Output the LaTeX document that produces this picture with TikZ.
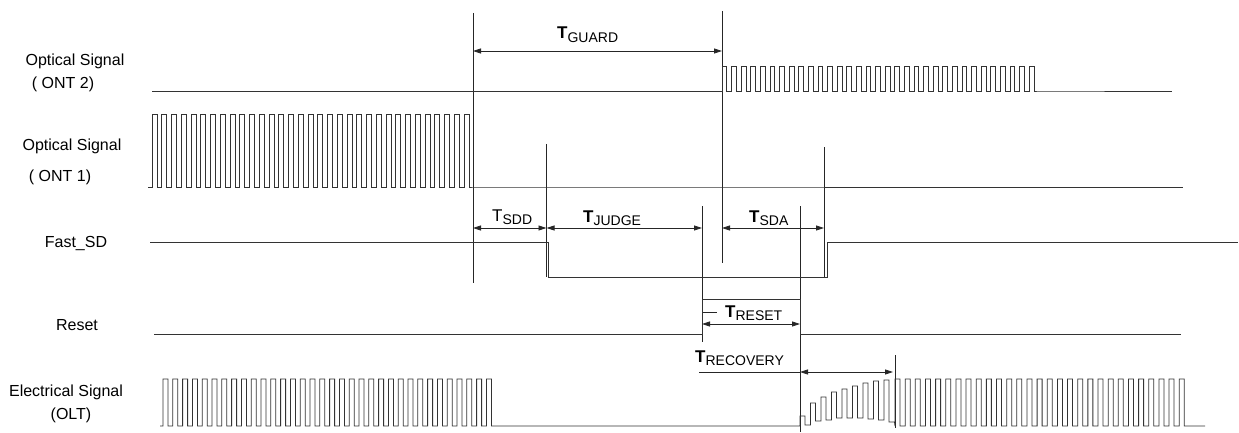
\documentclass[tikz,border=0pt]{standalone}
\usepackage{fontspec}
\setmainfont{Liberation Sans}
\usetikzlibrary{arrows.meta}

% T with a lowered subscript, as in the timing labels
\newcommand{\tsub}[2]{#1\raisebox{-3.5pt}{\fontsize{14}{14}\selectfont #2}}

\begin{document}
\begin{tikzpicture}[
    x=1pt, y=-1pt,
    font=\fontsize{16}{16}\selectfont,
    sig/.style={draw=black!80, line width=0.8pt, line join=miter},
    cut/.style={draw=black!85, line width=0.8pt},
    dim/.style={{Triangle[length=8pt,width=5pt]}-{Triangle[length=8pt,width=5pt]},
                draw=black!85, line width=0.8pt},
    lbl/.style={inner sep=0pt, anchor=base},
    tlbl/.style={inner sep=0pt, anchor=base west, font=\fontsize{17}{17}\selectfont},
]
\useasboundingbox (0,0) rectangle (1239,433);

% ---- Signal names ----------------------------------------------------------
\node[lbl] (ont2a) at (75,66)  {Optical Signal};
\node[lbl] (ont2b) at (63,89)  {( ONT 2)};
\node[lbl] (ont1a) at (72,150) {Optical Signal};
\node[lbl] (ont1b) at (60,181) {( ONT 1)};
\node[lbl] (sdlbl) at (76,247) {Fast\_SD};
\node[lbl] (rstlbl) at (77,330) {Reset};
\node[lbl] (olta) at (66,396) {Electrical Signal};
\node[lbl] (oltb) at (71,419) {(OLT)};

% ---- Time markers ----------------------------------------------------------
\draw[cut] (473,13)  -- (473,283);
\draw[cut] (722,11)  -- (722,263);
\draw[cut] (546.5,144) -- (546.5,277);
\draw[cut] (702,206) -- (702,342);
\draw[cut] (800,206) -- (800,432);
\draw[cut] (824,147) -- (824,277);
\draw[cut] (895,355) -- (895,428);

% ---- Waveforms -------------------------------------------------------------
% ONT 2 burst
\draw[sig] (152,91) -- (722,91)
    foreach \k in {1,...,33} { -- ++(0,-25) -- ++(4.8,0) -- ++(0,25) -- ++(4.8,0) }
    -- (1172,91);
% ONT 1 burst
\draw[sig] (148,187) -- (152,187)
    foreach \k in {1,...,33} { -- ++(0,-73) -- ++(5,0) -- ++(0,73) -- ++(4.75,0) }
    -- (1183,187);
% Fast_SD
\draw[sig] (150,242) -- (548.5,242) -- (548.5,277) -- (827,277) -- (827,242) -- (1238,242);
% Reset pulse
\draw[sig] (154,334) -- (702,334) -- (702,299) -- (800,299) -- (800,334) -- (1181,334);
% OLT electrical signal
\draw[sig] (160,426) -- (163,426)
    foreach \k in {1,...,34} { -- ++(0,-47) -- ++(5,0) -- ++(0,47) -- ++(4.8,0) }
    -- (800,426)
    foreach \h/\l [count=\i from 0] in {416/425,403/421,397/420,392/418,389/418,
                                        386/418,383/419,381/420,380/422}
      { -- ({800+\i*10.5},\h) -- ({805+\i*10.5},\h) -- ({805+\i*10.5},\l) -- ({810.5+\i*10.5},\l) }
    -- (895,426)
    foreach \k in {1,...,29} { -- ++(0,-47) -- ++(5,0) -- ++(0,47) -- ++(5.15,0) }
    -- (1205,426);

% ---- Interval dimensions ---------------------------------------------------
\draw[dim] (473,51)  -- (722,51);
\draw[dim] (473,228) -- (546.5,228);
\draw[dim] (546.5,228) -- (702,228);
\draw[dim] (722,228) -- (824,228);
\draw[dim] (702,324) -- (800,324);
\draw[cut] (703,312) -- (717,312);
\draw[cut] (699,372) -- (800,372);
\draw[dim] (800,372) -- (893,372);

\node[tlbl] (tguard) at (557,39)  {\tsub{\textbf{T}}{GUARD}};
\node[tlbl] (tsdd)   at (492,221) {\tsub{T}{SDD}};
\node[tlbl] (tjudge) at (583,222) {\tsub{\textbf{T}}{JUDGE}};
\node[tlbl] (tsda)   at (749,222) {\tsub{\textbf{T}}{SDA}};
\node[tlbl] (treset) at (725,317) {\tsub{\textbf{T}}{RESET}};
\node[tlbl] (trec)   at (695,362) {\tsub{\textbf{T}}{RECOVERY}};

\end{tikzpicture}
\end{document}
